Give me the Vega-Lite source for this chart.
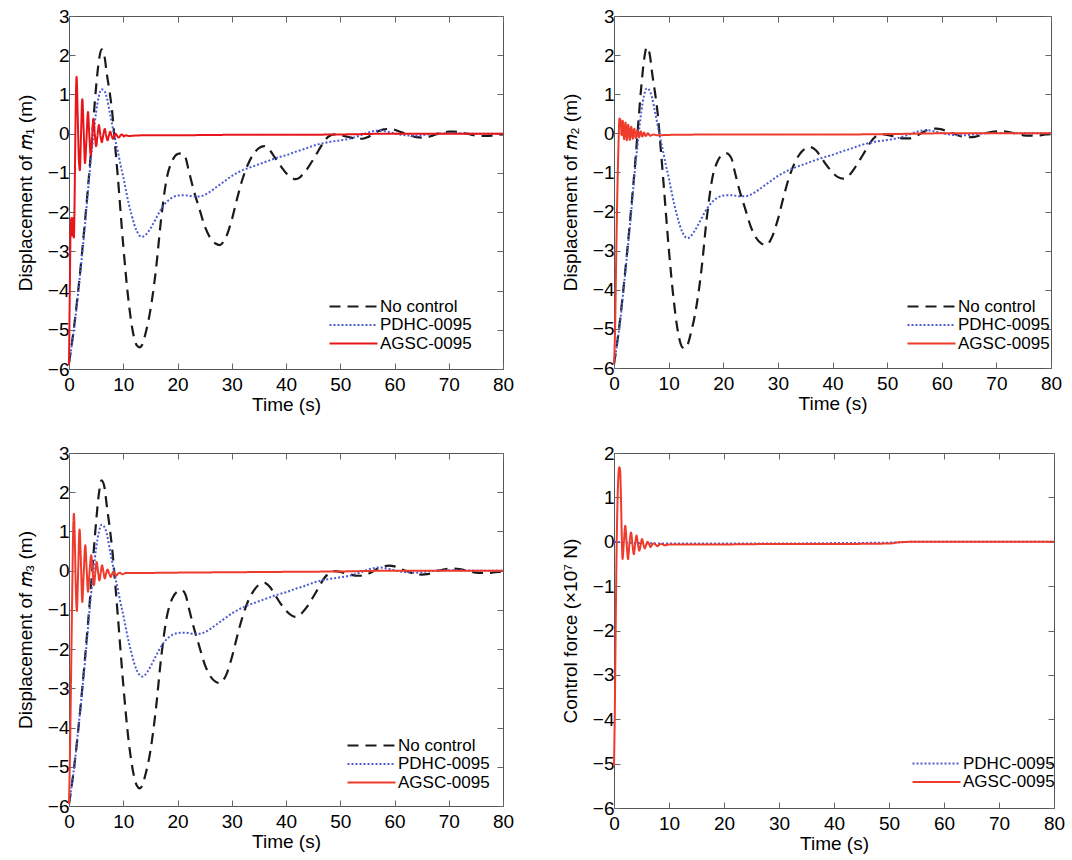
{
  "$schema": "https://vega.github.io/schema/vega-lite/v6.json",
  "background": "white",
  "padding": {"left": 15, "top": 6, "right": 5, "bottom": 3},
  "columns": 2,
  "spacing": {"row": 84, "column": 111},
  "bounds": "flush",
  "resolve": {"scale": {"color": "independent", "strokeDash": "independent"}, "legend": {"color": "independent", "strokeDash": "independent"}},
  "config": {
    "font": "Liberation Sans",
    "view": {"stroke": "#555", "strokeWidth": 1},
    "axis": {"domain": false, "grid": false, "labelFontSize": 19, "titleFontSize": 19, "titleFontWeight": "normal", "labelColor": "#000", "titleColor": "#000", "tickColor": "#666", "tickSize": -6, "labelPadding": 6, "titlePadding": 8, "labelFlush": false, "labelOverlap": false},
    "axisX": {"labelPadding": 12, "titlePadding": 1},
    "axisY": {"titlePadding": 12},
    "legend": {"labelFontSize": 17, "labelColor": "#000", "symbolStrokeWidth": 2, "symbolSize": 144, "symbolType": "M-1,0H7", "rowPadding": 0.5, "padding": 0, "labelOffset": 36, "labelLimit": 0}
  },
  "datasets": {
    "m1": [
      {"t":0,"v":-5.85,"s":"No control"},{"t":1,"v":-4.85,"s":"No control"},{"t":2,"v":-3.6,"s":"No control"},{"t":3,"v":-2.15,"s":"No control"},{"t":4,"v":-0.55,"s":"No control"},{"t":4.5,"v":0.35,"s":"No control"},{"t":5,"v":1.2,"s":"No control"},{"t":5.5,"v":1.85,"s":"No control"},{"t":6,"v":2.15,"s":"No control"},{"t":6.5,"v":2.0,"s":"No control"},{"t":7,"v":1.5,"s":"No control"},{"t":7.5,"v":1.05,"s":"No control"},{"t":8,"v":0.5,"s":"No control"},{"t":8.5,"v":-0.3,"s":"No control"},{"t":9,"v":-1.1,"s":"No control"},{"t":10,"v":-2.85,"s":"No control"},{"t":11,"v":-4.3,"s":"No control"},{"t":12,"v":-5.2,"s":"No control"},{"t":12.5,"v":-5.4,"s":"No control"},{"t":13,"v":-5.45,"s":"No control"},{"t":13.5,"v":-5.38,"s":"No control"},{"t":14,"v":-5.15,"s":"No control"},{"t":15,"v":-4.5,"s":"No control"},{"t":16,"v":-3.5,"s":"No control"},{"t":17,"v":-2.15,"s":"No control"},{"t":18,"v":-1.15,"s":"No control"},{"t":19,"v":-0.7,"s":"No control"},{"t":20,"v":-0.52,"s":"No control"},{"t":20.7,"v":-0.5,"s":"No control"},{"t":21.5,"v":-0.62,"s":"No control"},{"t":22,"v":-0.9,"s":"No control"},{"t":23,"v":-1.45,"s":"No control"},{"t":24,"v":-1.9,"s":"No control"},{"t":25,"v":-2.35,"s":"No control"},{"t":26,"v":-2.65,"s":"No control"},{"t":27,"v":-2.8,"s":"No control"},{"t":27.8,"v":-2.84,"s":"No control"},{"t":28.5,"v":-2.75,"s":"No control"},{"t":29,"v":-2.62,"s":"No control"},{"t":30,"v":-2.2,"s":"No control"},{"t":31,"v":-1.65,"s":"No control"},{"t":32,"v":-1.15,"s":"No control"},{"t":33,"v":-0.78,"s":"No control"},{"t":34,"v":-0.52,"s":"No control"},{"t":35,"v":-0.37,"s":"No control"},{"t":36,"v":-0.32,"s":"No control"},{"t":37,"v":-0.42,"s":"No control"},{"t":38,"v":-0.62,"s":"No control"},{"t":39,"v":-0.82,"s":"No control"},{"t":40,"v":-1.0,"s":"No control"},{"t":41,"v":-1.12,"s":"No control"},{"t":41.8,"v":-1.16,"s":"No control"},{"t":42.5,"v":-1.12,"s":"No control"},{"t":43,"v":-1.05,"s":"No control"},{"t":44,"v":-0.88,"s":"No control"},{"t":45,"v":-0.66,"s":"No control"},{"t":46,"v":-0.43,"s":"No control"},{"t":47,"v":-0.2,"s":"No control"},{"t":48,"v":-0.06,"s":"No control"},{"t":49,"v":-0.02,"s":"No control"},{"t":50,"v":-0.04,"s":"No control"},{"t":51,"v":-0.07,"s":"No control"},{"t":52,"v":-0.1,"s":"No control"},{"t":53,"v":-0.13,"s":"No control"},{"t":54,"v":-0.13,"s":"No control"},{"t":55,"v":-0.09,"s":"No control"},{"t":56,"v":-0.02,"s":"No control"},{"t":57,"v":0.06,"s":"No control"},{"t":58,"v":0.11,"s":"No control"},{"t":59,"v":0.12,"s":"No control"},{"t":60,"v":0.1,"s":"No control"},{"t":61,"v":0.05,"s":"No control"},{"t":62,"v":0.0,"s":"No control"},{"t":63,"v":-0.05,"s":"No control"},{"t":64,"v":-0.09,"s":"No control"},{"t":65,"v":-0.1,"s":"No control"},{"t":66,"v":-0.09,"s":"No control"},{"t":67,"v":-0.05,"s":"No control"},{"t":68,"v":0.0,"s":"No control"},{"t":69,"v":0.03,"s":"No control"},{"t":70,"v":0.05,"s":"No control"},{"t":71,"v":0.05,"s":"No control"},{"t":72,"v":0.04,"s":"No control"},{"t":73,"v":0.01,"s":"No control"},{"t":74,"v":-0.02,"s":"No control"},{"t":75,"v":-0.05,"s":"No control"},{"t":76,"v":-0.06,"s":"No control"},{"t":77,"v":-0.06,"s":"No control"},{"t":78,"v":-0.05,"s":"No control"},{"t":79,"v":-0.03,"s":"No control"},{"t":80,"v":-0.02,"s":"No control"},
      {"t":0,"v":-5.85,"s":"PDHC-0095"},{"t":1,"v":-4.9,"s":"PDHC-0095"},{"t":2,"v":-3.65,"s":"PDHC-0095"},{"t":3,"v":-2.25,"s":"PDHC-0095"},{"t":4,"v":-0.7,"s":"PDHC-0095"},{"t":4.5,"v":-0.05,"s":"PDHC-0095"},{"t":5,"v":0.55,"s":"PDHC-0095"},{"t":5.5,"v":0.95,"s":"PDHC-0095"},{"t":6,"v":1.13,"s":"PDHC-0095"},{"t":6.5,"v":1.1,"s":"PDHC-0095"},{"t":7,"v":0.9,"s":"PDHC-0095"},{"t":7.5,"v":0.55,"s":"PDHC-0095"},{"t":8,"v":0.2,"s":"PDHC-0095"},{"t":8.5,"v":-0.15,"s":"PDHC-0095"},{"t":9,"v":-0.45,"s":"PDHC-0095"},{"t":9.5,"v":-0.8,"s":"PDHC-0095"},{"t":10,"v":-1.1,"s":"PDHC-0095"},{"t":10.5,"v":-1.45,"s":"PDHC-0095"},{"t":11,"v":-1.78,"s":"PDHC-0095"},{"t":11.5,"v":-2.05,"s":"PDHC-0095"},{"t":12,"v":-2.3,"s":"PDHC-0095"},{"t":12.5,"v":-2.48,"s":"PDHC-0095"},{"t":13,"v":-2.6,"s":"PDHC-0095"},{"t":13.5,"v":-2.63,"s":"PDHC-0095"},{"t":14,"v":-2.6,"s":"PDHC-0095"},{"t":14.5,"v":-2.52,"s":"PDHC-0095"},{"t":15,"v":-2.42,"s":"PDHC-0095"},{"t":15.5,"v":-2.3,"s":"PDHC-0095"},{"t":16,"v":-2.17,"s":"PDHC-0095"},{"t":16.5,"v":-2.04,"s":"PDHC-0095"},{"t":17,"v":-1.92,"s":"PDHC-0095"},{"t":17.5,"v":-1.82,"s":"PDHC-0095"},{"t":18,"v":-1.74,"s":"PDHC-0095"},{"t":18.5,"v":-1.68,"s":"PDHC-0095"},{"t":19,"v":-1.63,"s":"PDHC-0095"},{"t":20,"v":-1.58,"s":"PDHC-0095"},{"t":21,"v":-1.57,"s":"PDHC-0095"},{"t":22,"v":-1.58,"s":"PDHC-0095"},{"t":23,"v":-1.6,"s":"PDHC-0095"},{"t":24,"v":-1.6,"s":"PDHC-0095"},{"t":25,"v":-1.56,"s":"PDHC-0095"},{"t":26,"v":-1.48,"s":"PDHC-0095"},{"t":27,"v":-1.38,"s":"PDHC-0095"},{"t":28,"v":-1.28,"s":"PDHC-0095"},{"t":29,"v":-1.18,"s":"PDHC-0095"},{"t":30,"v":-1.08,"s":"PDHC-0095"},{"t":31,"v":-1.0,"s":"PDHC-0095"},{"t":32,"v":-0.93,"s":"PDHC-0095"},{"t":33,"v":-0.88,"s":"PDHC-0095"},{"t":34,"v":-0.83,"s":"PDHC-0095"},{"t":35,"v":-0.78,"s":"PDHC-0095"},{"t":36,"v":-0.73,"s":"PDHC-0095"},{"t":37,"v":-0.68,"s":"PDHC-0095"},{"t":38,"v":-0.63,"s":"PDHC-0095"},{"t":39,"v":-0.59,"s":"PDHC-0095"},{"t":40,"v":-0.55,"s":"PDHC-0095"},{"t":41,"v":-0.5,"s":"PDHC-0095"},{"t":42,"v":-0.45,"s":"PDHC-0095"},{"t":43,"v":-0.41,"s":"PDHC-0095"},{"t":44,"v":-0.36,"s":"PDHC-0095"},{"t":45,"v":-0.31,"s":"PDHC-0095"},{"t":46,"v":-0.27,"s":"PDHC-0095"},{"t":47,"v":-0.24,"s":"PDHC-0095"},{"t":48,"v":-0.21,"s":"PDHC-0095"},{"t":49,"v":-0.19,"s":"PDHC-0095"},{"t":50,"v":-0.17,"s":"PDHC-0095"},{"t":51,"v":-0.15,"s":"PDHC-0095"},{"t":52,"v":-0.12,"s":"PDHC-0095"},{"t":53,"v":-0.08,"s":"PDHC-0095"},{"t":54,"v":-0.03,"s":"PDHC-0095"},{"t":55,"v":0.02,"s":"PDHC-0095"},{"t":56,"v":0.06,"s":"PDHC-0095"},{"t":57,"v":0.08,"s":"PDHC-0095"},{"t":58,"v":0.07,"s":"PDHC-0095"},{"t":59,"v":0.04,"s":"PDHC-0095"},{"t":60,"v":0.01,"s":"PDHC-0095"},{"t":61,"v":-0.02,"s":"PDHC-0095"},{"t":62,"v":-0.04,"s":"PDHC-0095"},{"t":63,"v":-0.05,"s":"PDHC-0095"},{"t":64,"v":-0.05,"s":"PDHC-0095"},{"t":65,"v":-0.04,"s":"PDHC-0095"},{"t":66,"v":-0.02,"s":"PDHC-0095"},{"t":68,"v":0.0,"s":"PDHC-0095"},{"t":70,"v":0.01,"s":"PDHC-0095"},{"t":72,"v":0.01,"s":"PDHC-0095"},{"t":75,"v":0.0,"s":"PDHC-0095"},{"t":80,"v":0.0,"s":"PDHC-0095"},
      {"t":0,"v":-5.9,"s":"AGSC-0095"},{"t":0.15,"v":-4.0,"s":"AGSC-0095"},{"t":0.3,"v":-2.4,"s":"AGSC-0095"},{"t":0.45,"v":-2.15,"s":"AGSC-0095"},{"t":0.6,"v":-2.6,"s":"AGSC-0095"},{"t":0.75,"v":-2.15,"s":"AGSC-0095"},{"t":0.9,"v":-2.65,"s":"AGSC-0095"},{"t":1.05,"v":-1.5,"s":"AGSC-0095"},{"t":1.2,"v":0.3,"s":"AGSC-0095"},{"t":1.4,"v":1.45,"s":"AGSC-0095"},{"t":1.6,"v":0.5,"s":"AGSC-0095"},{"t":1.8,"v":-0.6,"s":"AGSC-0095"},{"t":2.0,"v":-0.93,"s":"AGSC-0095"},{"t":2.2,"v":-0.1,"s":"AGSC-0095"},{"t":2.45,"v":0.88,"s":"AGSC-0095"},{"t":2.7,"v":0.1,"s":"AGSC-0095"},{"t":2.95,"v":-0.75,"s":"AGSC-0095"},{"t":3.2,"v":-0.2,"s":"AGSC-0095"},{"t":3.5,"v":0.55,"s":"AGSC-0095"},{"t":3.75,"v":-0.05,"s":"AGSC-0095"},{"t":4.0,"v":-0.55,"s":"AGSC-0095"},{"t":4.25,"v":-0.1,"s":"AGSC-0095"},{"t":4.5,"v":0.38,"s":"AGSC-0095"},{"t":4.75,"v":0.0,"s":"AGSC-0095"},{"t":5.0,"v":-0.32,"s":"AGSC-0095"},{"t":5.25,"v":-0.05,"s":"AGSC-0095"},{"t":5.5,"v":0.22,"s":"AGSC-0095"},{"t":5.8,"v":-0.05,"s":"AGSC-0095"},{"t":6.05,"v":-0.22,"s":"AGSC-0095"},{"t":6.3,"v":-0.05,"s":"AGSC-0095"},{"t":6.6,"v":0.12,"s":"AGSC-0095"},{"t":6.85,"v":-0.05,"s":"AGSC-0095"},{"t":7.1,"v":-0.17,"s":"AGSC-0095"},{"t":7.35,"v":-0.05,"s":"AGSC-0095"},{"t":7.6,"v":0.05,"s":"AGSC-0095"},{"t":7.85,"v":-0.05,"s":"AGSC-0095"},{"t":8.1,"v":-0.13,"s":"AGSC-0095"},{"t":8.35,"v":-0.05,"s":"AGSC-0095"},{"t":8.6,"v":0.0,"s":"AGSC-0095"},{"t":8.9,"v":-0.06,"s":"AGSC-0095"},{"t":9.2,"v":-0.1,"s":"AGSC-0095"},{"t":9.5,"v":-0.04,"s":"AGSC-0095"},{"t":9.8,"v":-0.02,"s":"AGSC-0095"},{"t":10.1,"v":-0.07,"s":"AGSC-0095"},{"t":10.5,"v":-0.04,"s":"AGSC-0095"},{"t":11,"v":-0.06,"s":"AGSC-0095"},{"t":12,"v":-0.05,"s":"AGSC-0095"},{"t":15,"v":-0.04,"s":"AGSC-0095"},{"t":20,"v":-0.04,"s":"AGSC-0095"},{"t":30,"v":-0.03,"s":"AGSC-0095"},{"t":40,"v":-0.03,"s":"AGSC-0095"},{"t":50,"v":-0.02,"s":"AGSC-0095"},{"t":60,"v":0.0,"s":"AGSC-0095"},{"t":70,"v":0.0,"s":"AGSC-0095"},{"t":80,"v":0.0,"s":"AGSC-0095"}
    ],
    "m2": [
      {"t":0,"v":-5.9,"s":"No control"},{"t":1,"v":-4.9,"s":"No control"},{"t":2,"v":-3.6,"s":"No control"},{"t":3,"v":-2.15,"s":"No control"},{"t":4,"v":-0.55,"s":"No control"},{"t":4.5,"v":0.35,"s":"No control"},{"t":5,"v":1.2,"s":"No control"},{"t":5.5,"v":1.88,"s":"No control"},{"t":6,"v":2.2,"s":"No control"},{"t":6.5,"v":2.05,"s":"No control"},{"t":7,"v":1.52,"s":"No control"},{"t":7.5,"v":1.05,"s":"No control"},{"t":8,"v":0.5,"s":"No control"},{"t":8.5,"v":-0.3,"s":"No control"},{"t":9,"v":-1.15,"s":"No control"},{"t":10,"v":-2.9,"s":"No control"},{"t":11,"v":-4.35,"s":"No control"},{"t":12,"v":-5.28,"s":"No control"},{"t":12.5,"v":-5.47,"s":"No control"},{"t":13,"v":-5.5,"s":"No control"},{"t":13.5,"v":-5.4,"s":"No control"},{"t":14,"v":-5.15,"s":"No control"},{"t":15,"v":-4.5,"s":"No control"},{"t":16,"v":-3.5,"s":"No control"},{"t":17,"v":-2.15,"s":"No control"},{"t":18,"v":-1.15,"s":"No control"},{"t":19,"v":-0.7,"s":"No control"},{"t":20,"v":-0.53,"s":"No control"},{"t":20.6,"v":-0.51,"s":"No control"},{"t":21.5,"v":-0.64,"s":"No control"},{"t":22,"v":-0.92,"s":"No control"},{"t":23,"v":-1.47,"s":"No control"},{"t":24,"v":-1.92,"s":"No control"},{"t":25,"v":-2.37,"s":"No control"},{"t":26,"v":-2.67,"s":"No control"},{"t":27,"v":-2.82,"s":"No control"},{"t":27.9,"v":-2.86,"s":"No control"},{"t":28.5,"v":-2.77,"s":"No control"},{"t":29,"v":-2.63,"s":"No control"},{"t":30,"v":-2.2,"s":"No control"},{"t":31,"v":-1.65,"s":"No control"},{"t":32,"v":-1.15,"s":"No control"},{"t":33,"v":-0.78,"s":"No control"},{"t":34,"v":-0.53,"s":"No control"},{"t":35,"v":-0.39,"s":"No control"},{"t":35.8,"v":-0.35,"s":"No control"},{"t":37,"v":-0.44,"s":"No control"},{"t":38,"v":-0.63,"s":"No control"},{"t":39,"v":-0.83,"s":"No control"},{"t":40,"v":-1.0,"s":"No control"},{"t":41,"v":-1.12,"s":"No control"},{"t":42,"v":-1.16,"s":"No control"},{"t":42.7,"v":-1.12,"s":"No control"},{"t":43.5,"v":-1.0,"s":"No control"},{"t":44,"v":-0.9,"s":"No control"},{"t":45,"v":-0.68,"s":"No control"},{"t":46,"v":-0.45,"s":"No control"},{"t":47,"v":-0.22,"s":"No control"},{"t":48,"v":-0.07,"s":"No control"},{"t":49,"v":-0.02,"s":"No control"},{"t":50,"v":-0.04,"s":"No control"},{"t":51,"v":-0.07,"s":"No control"},{"t":52,"v":-0.1,"s":"No control"},{"t":53,"v":-0.13,"s":"No control"},{"t":54,"v":-0.13,"s":"No control"},{"t":55,"v":-0.09,"s":"No control"},{"t":56,"v":-0.02,"s":"No control"},{"t":57,"v":0.06,"s":"No control"},{"t":58,"v":0.11,"s":"No control"},{"t":59,"v":0.12,"s":"No control"},{"t":60,"v":0.1,"s":"No control"},{"t":61,"v":0.05,"s":"No control"},{"t":62,"v":0.0,"s":"No control"},{"t":63,"v":-0.05,"s":"No control"},{"t":64,"v":-0.09,"s":"No control"},{"t":65,"v":-0.1,"s":"No control"},{"t":66,"v":-0.09,"s":"No control"},{"t":67,"v":-0.05,"s":"No control"},{"t":68,"v":0.0,"s":"No control"},{"t":69,"v":0.03,"s":"No control"},{"t":70,"v":0.05,"s":"No control"},{"t":71,"v":0.05,"s":"No control"},{"t":72,"v":0.04,"s":"No control"},{"t":73,"v":0.01,"s":"No control"},{"t":74,"v":-0.02,"s":"No control"},{"t":75,"v":-0.05,"s":"No control"},{"t":76,"v":-0.06,"s":"No control"},{"t":77,"v":-0.06,"s":"No control"},{"t":78,"v":-0.05,"s":"No control"},{"t":79,"v":-0.03,"s":"No control"},{"t":80,"v":-0.02,"s":"No control"},
      {"t":0,"v":-5.9,"s":"PDHC-0095"},{"t":1,"v":-4.95,"s":"PDHC-0095"},{"t":2,"v":-3.65,"s":"PDHC-0095"},{"t":3,"v":-2.25,"s":"PDHC-0095"},{"t":4,"v":-0.7,"s":"PDHC-0095"},{"t":4.5,"v":-0.05,"s":"PDHC-0095"},{"t":5,"v":0.55,"s":"PDHC-0095"},{"t":5.5,"v":0.97,"s":"PDHC-0095"},{"t":6,"v":1.15,"s":"PDHC-0095"},{"t":6.5,"v":1.1,"s":"PDHC-0095"},{"t":7,"v":0.9,"s":"PDHC-0095"},{"t":7.5,"v":0.55,"s":"PDHC-0095"},{"t":8,"v":0.2,"s":"PDHC-0095"},{"t":8.5,"v":-0.15,"s":"PDHC-0095"},{"t":9,"v":-0.47,"s":"PDHC-0095"},{"t":9.5,"v":-0.82,"s":"PDHC-0095"},{"t":10,"v":-1.12,"s":"PDHC-0095"},{"t":10.5,"v":-1.47,"s":"PDHC-0095"},{"t":11,"v":-1.8,"s":"PDHC-0095"},{"t":11.5,"v":-2.08,"s":"PDHC-0095"},{"t":12,"v":-2.33,"s":"PDHC-0095"},{"t":12.5,"v":-2.52,"s":"PDHC-0095"},{"t":13,"v":-2.64,"s":"PDHC-0095"},{"t":13.5,"v":-2.68,"s":"PDHC-0095"},{"t":14,"v":-2.64,"s":"PDHC-0095"},{"t":14.5,"v":-2.55,"s":"PDHC-0095"},{"t":15,"v":-2.44,"s":"PDHC-0095"},{"t":15.5,"v":-2.31,"s":"PDHC-0095"},{"t":16,"v":-2.18,"s":"PDHC-0095"},{"t":16.5,"v":-2.05,"s":"PDHC-0095"},{"t":17,"v":-1.93,"s":"PDHC-0095"},{"t":17.5,"v":-1.83,"s":"PDHC-0095"},{"t":18,"v":-1.75,"s":"PDHC-0095"},{"t":18.5,"v":-1.69,"s":"PDHC-0095"},{"t":19,"v":-1.64,"s":"PDHC-0095"},{"t":20,"v":-1.59,"s":"PDHC-0095"},{"t":21,"v":-1.58,"s":"PDHC-0095"},{"t":22,"v":-1.59,"s":"PDHC-0095"},{"t":23,"v":-1.61,"s":"PDHC-0095"},{"t":24,"v":-1.61,"s":"PDHC-0095"},{"t":25,"v":-1.57,"s":"PDHC-0095"},{"t":26,"v":-1.49,"s":"PDHC-0095"},{"t":27,"v":-1.39,"s":"PDHC-0095"},{"t":28,"v":-1.29,"s":"PDHC-0095"},{"t":29,"v":-1.19,"s":"PDHC-0095"},{"t":30,"v":-1.09,"s":"PDHC-0095"},{"t":31,"v":-1.01,"s":"PDHC-0095"},{"t":32,"v":-0.94,"s":"PDHC-0095"},{"t":33,"v":-0.88,"s":"PDHC-0095"},{"t":34,"v":-0.83,"s":"PDHC-0095"},{"t":35,"v":-0.78,"s":"PDHC-0095"},{"t":36,"v":-0.73,"s":"PDHC-0095"},{"t":37,"v":-0.68,"s":"PDHC-0095"},{"t":38,"v":-0.63,"s":"PDHC-0095"},{"t":39,"v":-0.59,"s":"PDHC-0095"},{"t":40,"v":-0.55,"s":"PDHC-0095"},{"t":41,"v":-0.5,"s":"PDHC-0095"},{"t":42,"v":-0.45,"s":"PDHC-0095"},{"t":43,"v":-0.41,"s":"PDHC-0095"},{"t":44,"v":-0.36,"s":"PDHC-0095"},{"t":45,"v":-0.31,"s":"PDHC-0095"},{"t":46,"v":-0.27,"s":"PDHC-0095"},{"t":47,"v":-0.24,"s":"PDHC-0095"},{"t":48,"v":-0.21,"s":"PDHC-0095"},{"t":49,"v":-0.19,"s":"PDHC-0095"},{"t":50,"v":-0.17,"s":"PDHC-0095"},{"t":51,"v":-0.15,"s":"PDHC-0095"},{"t":52,"v":-0.12,"s":"PDHC-0095"},{"t":53,"v":-0.08,"s":"PDHC-0095"},{"t":54,"v":-0.03,"s":"PDHC-0095"},{"t":55,"v":0.02,"s":"PDHC-0095"},{"t":56,"v":0.06,"s":"PDHC-0095"},{"t":57,"v":0.08,"s":"PDHC-0095"},{"t":58,"v":0.07,"s":"PDHC-0095"},{"t":59,"v":0.04,"s":"PDHC-0095"},{"t":60,"v":0.01,"s":"PDHC-0095"},{"t":61,"v":-0.02,"s":"PDHC-0095"},{"t":62,"v":-0.04,"s":"PDHC-0095"},{"t":63,"v":-0.05,"s":"PDHC-0095"},{"t":64,"v":-0.05,"s":"PDHC-0095"},{"t":65,"v":-0.04,"s":"PDHC-0095"},{"t":66,"v":-0.02,"s":"PDHC-0095"},{"t":68,"v":0.0,"s":"PDHC-0095"},{"t":70,"v":0.01,"s":"PDHC-0095"},{"t":72,"v":0.01,"s":"PDHC-0095"},{"t":75,"v":0.0,"s":"PDHC-0095"},{"t":80,"v":0.0,"s":"PDHC-0095"},
      {"t":0,"v":-5.9,"s":"AGSC-0095"},{"t":0.2,"v":-5.0,"s":"AGSC-0095"},{"t":0.4,"v":-3.2,"s":"AGSC-0095"},{"t":0.6,"v":-1.6,"s":"AGSC-0095"},{"t":0.8,"v":-0.4,"s":"AGSC-0095"},{"t":1.0,"v":0.38,"s":"AGSC-0095"},{"t":1.2,"v":0.33,"s":"AGSC-0095"},{"t":1.4,"v":-0.05,"s":"AGSC-0095"},{"t":1.6,"v":0.32,"s":"AGSC-0095"},{"t":1.85,"v":-0.15,"s":"AGSC-0095"},{"t":2.1,"v":0.28,"s":"AGSC-0095"},{"t":2.35,"v":-0.18,"s":"AGSC-0095"},{"t":2.6,"v":0.22,"s":"AGSC-0095"},{"t":2.9,"v":-0.17,"s":"AGSC-0095"},{"t":3.15,"v":0.17,"s":"AGSC-0095"},{"t":3.45,"v":-0.14,"s":"AGSC-0095"},{"t":3.7,"v":0.12,"s":"AGSC-0095"},{"t":4.0,"v":-0.12,"s":"AGSC-0095"},{"t":4.3,"v":0.08,"s":"AGSC-0095"},{"t":4.6,"v":-0.1,"s":"AGSC-0095"},{"t":4.9,"v":0.05,"s":"AGSC-0095"},{"t":5.2,"v":-0.08,"s":"AGSC-0095"},{"t":5.5,"v":0.02,"s":"AGSC-0095"},{"t":5.8,"v":-0.07,"s":"AGSC-0095"},{"t":6.2,"v":0.0,"s":"AGSC-0095"},{"t":6.6,"v":-0.06,"s":"AGSC-0095"},{"t":7.2,"v":-0.03,"s":"AGSC-0095"},{"t":8,"v":-0.05,"s":"AGSC-0095"},{"t":10,"v":-0.04,"s":"AGSC-0095"},{"t":20,"v":-0.03,"s":"AGSC-0095"},{"t":40,"v":-0.03,"s":"AGSC-0095"},{"t":50,"v":-0.02,"s":"AGSC-0095"},{"t":60,"v":0.0,"s":"AGSC-0095"},{"t":80,"v":0.0,"s":"AGSC-0095"}
    ],
    "m3": [
      {"t":0,"v":-5.95,"s":"No control"},{"t":1,"v":-4.95,"s":"No control"},{"t":2,"v":-3.65,"s":"No control"},{"t":3,"v":-2.15,"s":"No control"},{"t":4,"v":-0.5,"s":"No control"},{"t":4.5,"v":0.4,"s":"No control"},{"t":5,"v":1.25,"s":"No control"},{"t":5.5,"v":1.95,"s":"No control"},{"t":6,"v":2.3,"s":"No control"},{"t":6.5,"v":2.15,"s":"No control"},{"t":7,"v":1.62,"s":"No control"},{"t":7.5,"v":1.1,"s":"No control"},{"t":8,"v":0.5,"s":"No control"},{"t":8.5,"v":-0.3,"s":"No control"},{"t":9,"v":-1.15,"s":"No control"},{"t":10,"v":-2.9,"s":"No control"},{"t":11,"v":-4.35,"s":"No control"},{"t":12,"v":-5.25,"s":"No control"},{"t":12.5,"v":-5.48,"s":"No control"},{"t":13,"v":-5.55,"s":"No control"},{"t":13.5,"v":-5.48,"s":"No control"},{"t":14,"v":-5.25,"s":"No control"},{"t":15,"v":-4.6,"s":"No control"},{"t":16,"v":-3.55,"s":"No control"},{"t":17,"v":-2.2,"s":"No control"},{"t":18,"v":-1.2,"s":"No control"},{"t":19,"v":-0.72,"s":"No control"},{"t":20,"v":-0.53,"s":"No control"},{"t":20.8,"v":-0.5,"s":"No control"},{"t":21.5,"v":-0.62,"s":"No control"},{"t":22,"v":-0.9,"s":"No control"},{"t":23,"v":-1.45,"s":"No control"},{"t":24,"v":-1.92,"s":"No control"},{"t":25,"v":-2.38,"s":"No control"},{"t":26,"v":-2.68,"s":"No control"},{"t":27,"v":-2.83,"s":"No control"},{"t":27.9,"v":-2.87,"s":"No control"},{"t":28.5,"v":-2.78,"s":"No control"},{"t":29,"v":-2.65,"s":"No control"},{"t":30,"v":-2.22,"s":"No control"},{"t":31,"v":-1.67,"s":"No control"},{"t":32,"v":-1.17,"s":"No control"},{"t":33,"v":-0.78,"s":"No control"},{"t":34,"v":-0.52,"s":"No control"},{"t":35,"v":-0.36,"s":"No control"},{"t":36,"v":-0.31,"s":"No control"},{"t":37,"v":-0.41,"s":"No control"},{"t":38,"v":-0.62,"s":"No control"},{"t":39,"v":-0.84,"s":"No control"},{"t":40,"v":-1.02,"s":"No control"},{"t":41,"v":-1.14,"s":"No control"},{"t":41.8,"v":-1.18,"s":"No control"},{"t":42.5,"v":-1.14,"s":"No control"},{"t":43,"v":-1.07,"s":"No control"},{"t":44,"v":-0.9,"s":"No control"},{"t":45,"v":-0.67,"s":"No control"},{"t":46,"v":-0.44,"s":"No control"},{"t":47,"v":-0.2,"s":"No control"},{"t":48,"v":-0.06,"s":"No control"},{"t":49,"v":-0.01,"s":"No control"},{"t":50,"v":-0.03,"s":"No control"},{"t":51,"v":-0.07,"s":"No control"},{"t":52,"v":-0.1,"s":"No control"},{"t":53,"v":-0.13,"s":"No control"},{"t":54,"v":-0.13,"s":"No control"},{"t":55,"v":-0.09,"s":"No control"},{"t":56,"v":-0.02,"s":"No control"},{"t":57,"v":0.06,"s":"No control"},{"t":58,"v":0.11,"s":"No control"},{"t":59,"v":0.13,"s":"No control"},{"t":60,"v":0.11,"s":"No control"},{"t":61,"v":0.05,"s":"No control"},{"t":62,"v":0.0,"s":"No control"},{"t":63,"v":-0.05,"s":"No control"},{"t":64,"v":-0.09,"s":"No control"},{"t":65,"v":-0.1,"s":"No control"},{"t":66,"v":-0.09,"s":"No control"},{"t":67,"v":-0.05,"s":"No control"},{"t":68,"v":0.0,"s":"No control"},{"t":69,"v":0.03,"s":"No control"},{"t":70,"v":0.05,"s":"No control"},{"t":71,"v":0.05,"s":"No control"},{"t":72,"v":0.04,"s":"No control"},{"t":73,"v":0.01,"s":"No control"},{"t":74,"v":-0.02,"s":"No control"},{"t":75,"v":-0.05,"s":"No control"},{"t":76,"v":-0.06,"s":"No control"},{"t":77,"v":-0.06,"s":"No control"},{"t":78,"v":-0.05,"s":"No control"},{"t":79,"v":-0.03,"s":"No control"},{"t":80,"v":-0.02,"s":"No control"},
      {"t":0,"v":-5.95,"s":"PDHC-0095"},{"t":1,"v":-4.95,"s":"PDHC-0095"},{"t":2,"v":-3.65,"s":"PDHC-0095"},{"t":3,"v":-2.25,"s":"PDHC-0095"},{"t":4,"v":-0.7,"s":"PDHC-0095"},{"t":4.5,"v":-0.03,"s":"PDHC-0095"},{"t":5,"v":0.57,"s":"PDHC-0095"},{"t":5.5,"v":0.98,"s":"PDHC-0095"},{"t":6,"v":1.17,"s":"PDHC-0095"},{"t":6.5,"v":1.12,"s":"PDHC-0095"},{"t":7,"v":0.92,"s":"PDHC-0095"},{"t":7.5,"v":0.56,"s":"PDHC-0095"},{"t":8,"v":0.2,"s":"PDHC-0095"},{"t":8.5,"v":-0.15,"s":"PDHC-0095"},{"t":9,"v":-0.47,"s":"PDHC-0095"},{"t":9.5,"v":-0.82,"s":"PDHC-0095"},{"t":10,"v":-1.13,"s":"PDHC-0095"},{"t":10.5,"v":-1.48,"s":"PDHC-0095"},{"t":11,"v":-1.81,"s":"PDHC-0095"},{"t":11.5,"v":-2.09,"s":"PDHC-0095"},{"t":12,"v":-2.35,"s":"PDHC-0095"},{"t":12.5,"v":-2.54,"s":"PDHC-0095"},{"t":13,"v":-2.66,"s":"PDHC-0095"},{"t":13.5,"v":-2.7,"s":"PDHC-0095"},{"t":14,"v":-2.66,"s":"PDHC-0095"},{"t":14.5,"v":-2.57,"s":"PDHC-0095"},{"t":15,"v":-2.45,"s":"PDHC-0095"},{"t":15.5,"v":-2.32,"s":"PDHC-0095"},{"t":16,"v":-2.18,"s":"PDHC-0095"},{"t":16.5,"v":-2.05,"s":"PDHC-0095"},{"t":17,"v":-1.93,"s":"PDHC-0095"},{"t":17.5,"v":-1.83,"s":"PDHC-0095"},{"t":18,"v":-1.75,"s":"PDHC-0095"},{"t":18.5,"v":-1.69,"s":"PDHC-0095"},{"t":19,"v":-1.64,"s":"PDHC-0095"},{"t":20,"v":-1.59,"s":"PDHC-0095"},{"t":21,"v":-1.58,"s":"PDHC-0095"},{"t":22,"v":-1.59,"s":"PDHC-0095"},{"t":23,"v":-1.61,"s":"PDHC-0095"},{"t":24,"v":-1.61,"s":"PDHC-0095"},{"t":25,"v":-1.57,"s":"PDHC-0095"},{"t":26,"v":-1.49,"s":"PDHC-0095"},{"t":27,"v":-1.39,"s":"PDHC-0095"},{"t":28,"v":-1.29,"s":"PDHC-0095"},{"t":29,"v":-1.19,"s":"PDHC-0095"},{"t":30,"v":-1.09,"s":"PDHC-0095"},{"t":31,"v":-1.01,"s":"PDHC-0095"},{"t":32,"v":-0.94,"s":"PDHC-0095"},{"t":33,"v":-0.88,"s":"PDHC-0095"},{"t":34,"v":-0.83,"s":"PDHC-0095"},{"t":35,"v":-0.78,"s":"PDHC-0095"},{"t":36,"v":-0.73,"s":"PDHC-0095"},{"t":37,"v":-0.68,"s":"PDHC-0095"},{"t":38,"v":-0.63,"s":"PDHC-0095"},{"t":39,"v":-0.59,"s":"PDHC-0095"},{"t":40,"v":-0.55,"s":"PDHC-0095"},{"t":41,"v":-0.5,"s":"PDHC-0095"},{"t":42,"v":-0.45,"s":"PDHC-0095"},{"t":43,"v":-0.41,"s":"PDHC-0095"},{"t":44,"v":-0.36,"s":"PDHC-0095"},{"t":45,"v":-0.31,"s":"PDHC-0095"},{"t":46,"v":-0.27,"s":"PDHC-0095"},{"t":47,"v":-0.24,"s":"PDHC-0095"},{"t":48,"v":-0.21,"s":"PDHC-0095"},{"t":49,"v":-0.19,"s":"PDHC-0095"},{"t":50,"v":-0.17,"s":"PDHC-0095"},{"t":51,"v":-0.15,"s":"PDHC-0095"},{"t":52,"v":-0.12,"s":"PDHC-0095"},{"t":53,"v":-0.08,"s":"PDHC-0095"},{"t":54,"v":-0.03,"s":"PDHC-0095"},{"t":55,"v":0.02,"s":"PDHC-0095"},{"t":56,"v":0.06,"s":"PDHC-0095"},{"t":57,"v":0.08,"s":"PDHC-0095"},{"t":58,"v":0.07,"s":"PDHC-0095"},{"t":59,"v":0.04,"s":"PDHC-0095"},{"t":60,"v":0.01,"s":"PDHC-0095"},{"t":61,"v":-0.02,"s":"PDHC-0095"},{"t":62,"v":-0.04,"s":"PDHC-0095"},{"t":63,"v":-0.05,"s":"PDHC-0095"},{"t":64,"v":-0.05,"s":"PDHC-0095"},{"t":65,"v":-0.04,"s":"PDHC-0095"},{"t":66,"v":-0.02,"s":"PDHC-0095"},{"t":68,"v":0.0,"s":"PDHC-0095"},{"t":70,"v":0.01,"s":"PDHC-0095"},{"t":72,"v":0.01,"s":"PDHC-0095"},{"t":75,"v":0.0,"s":"PDHC-0095"},{"t":80,"v":0.0,"s":"PDHC-0095"},
      {"t":0,"v":-5.95,"s":"AGSC-0095"},{"t":0.2,"v":-4.5,"s":"AGSC-0095"},{"t":0.4,"v":-2.5,"s":"AGSC-0095"},{"t":0.6,"v":-0.5,"s":"AGSC-0095"},{"t":0.75,"v":0.9,"s":"AGSC-0095"},{"t":0.9,"v":1.45,"s":"AGSC-0095"},{"t":1.05,"v":0.9,"s":"AGSC-0095"},{"t":1.25,"v":-0.4,"s":"AGSC-0095"},{"t":1.45,"v":-1.03,"s":"AGSC-0095"},{"t":1.65,"v":-0.2,"s":"AGSC-0095"},{"t":1.95,"v":1.05,"s":"AGSC-0095"},{"t":2.2,"v":0.2,"s":"AGSC-0095"},{"t":2.45,"v":-0.8,"s":"AGSC-0095"},{"t":2.7,"v":-0.1,"s":"AGSC-0095"},{"t":3.0,"v":0.65,"s":"AGSC-0095"},{"t":3.25,"v":0.05,"s":"AGSC-0095"},{"t":3.5,"v":-0.54,"s":"AGSC-0095"},{"t":3.8,"v":0.0,"s":"AGSC-0095"},{"t":4.1,"v":0.39,"s":"AGSC-0095"},{"t":4.35,"v":0.0,"s":"AGSC-0095"},{"t":4.6,"v":-0.37,"s":"AGSC-0095"},{"t":4.85,"v":-0.05,"s":"AGSC-0095"},{"t":5.1,"v":0.22,"s":"AGSC-0095"},{"t":5.35,"v":-0.02,"s":"AGSC-0095"},{"t":5.6,"v":-0.25,"s":"AGSC-0095"},{"t":5.85,"v":-0.05,"s":"AGSC-0095"},{"t":6.1,"v":0.14,"s":"AGSC-0095"},{"t":6.35,"v":-0.03,"s":"AGSC-0095"},{"t":6.6,"v":-0.2,"s":"AGSC-0095"},{"t":6.85,"v":-0.07,"s":"AGSC-0095"},{"t":7.1,"v":0.03,"s":"AGSC-0095"},{"t":7.4,"v":-0.07,"s":"AGSC-0095"},{"t":7.7,"v":-0.16,"s":"AGSC-0095"},{"t":7.95,"v":-0.08,"s":"AGSC-0095"},{"t":8.2,"v":-0.03,"s":"AGSC-0095"},{"t":8.45,"v":-0.08,"s":"AGSC-0095"},{"t":8.7,"v":-0.13,"s":"AGSC-0095"},{"t":9.0,"v":-0.08,"s":"AGSC-0095"},{"t":9.4,"v":-0.05,"s":"AGSC-0095"},{"t":9.8,"v":-0.09,"s":"AGSC-0095"},{"t":10.5,"v":-0.06,"s":"AGSC-0095"},{"t":12,"v":-0.06,"s":"AGSC-0095"},{"t":20,"v":-0.05,"s":"AGSC-0095"},{"t":30,"v":-0.04,"s":"AGSC-0095"},{"t":40,"v":-0.03,"s":"AGSC-0095"},{"t":50,"v":-0.02,"s":"AGSC-0095"},{"t":60,"v":0.0,"s":"AGSC-0095"},{"t":80,"v":0.0,"s":"AGSC-0095"}
    ],
    "f": [
      {"t":0,"v":0.0,"s":"PDHC-0095"},{"t":2,"v":-0.02,"s":"PDHC-0095"},{"t":5,"v":-0.03,"s":"PDHC-0095"},{"t":10,"v":-0.04,"s":"PDHC-0095"},{"t":20,"v":-0.04,"s":"PDHC-0095"},{"t":30,"v":-0.04,"s":"PDHC-0095"},{"t":40,"v":-0.03,"s":"PDHC-0095"},{"t":50,"v":-0.02,"s":"PDHC-0095"},{"t":55,"v":0.0,"s":"PDHC-0095"},{"t":80,"v":0.0,"s":"PDHC-0095"},
      {"t":0,"v":-5.05,"s":"AGSC-0095"},{"t":0.15,"v":-3.8,"s":"AGSC-0095"},{"t":0.3,"v":-2.0,"s":"AGSC-0095"},{"t":0.45,"v":-0.4,"s":"AGSC-0095"},{"t":0.6,"v":0.7,"s":"AGSC-0095"},{"t":0.75,"v":1.35,"s":"AGSC-0095"},{"t":0.95,"v":1.68,"s":"AGSC-0095"},{"t":1.1,"v":1.62,"s":"AGSC-0095"},{"t":1.25,"v":1.1,"s":"AGSC-0095"},{"t":1.4,"v":0.2,"s":"AGSC-0095"},{"t":1.55,"v":-0.39,"s":"AGSC-0095"},{"t":1.8,"v":0.0,"s":"AGSC-0095"},{"t":2.05,"v":0.36,"s":"AGSC-0095"},{"t":2.3,"v":-0.05,"s":"AGSC-0095"},{"t":2.55,"v":-0.39,"s":"AGSC-0095"},{"t":2.8,"v":-0.05,"s":"AGSC-0095"},{"t":3.1,"v":0.21,"s":"AGSC-0095"},{"t":3.35,"v":-0.05,"s":"AGSC-0095"},{"t":3.6,"v":-0.28,"s":"AGSC-0095"},{"t":3.85,"v":-0.05,"s":"AGSC-0095"},{"t":4.1,"v":0.14,"s":"AGSC-0095"},{"t":4.35,"v":-0.05,"s":"AGSC-0095"},{"t":4.6,"v":-0.2,"s":"AGSC-0095"},{"t":4.85,"v":-0.07,"s":"AGSC-0095"},{"t":5.1,"v":0.06,"s":"AGSC-0095"},{"t":5.35,"v":-0.06,"s":"AGSC-0095"},{"t":5.6,"v":-0.15,"s":"AGSC-0095"},{"t":5.85,"v":-0.07,"s":"AGSC-0095"},{"t":6.1,"v":0.0,"s":"AGSC-0095"},{"t":6.4,"v":-0.06,"s":"AGSC-0095"},{"t":6.65,"v":-0.12,"s":"AGSC-0095"},{"t":6.95,"v":-0.06,"s":"AGSC-0095"},{"t":7.3,"v":-0.04,"s":"AGSC-0095"},{"t":7.6,"v":-0.07,"s":"AGSC-0095"},{"t":7.9,"v":-0.1,"s":"AGSC-0095"},{"t":8.3,"v":-0.06,"s":"AGSC-0095"},{"t":8.7,"v":-0.05,"s":"AGSC-0095"},{"t":9.2,"v":-0.08,"s":"AGSC-0095"},{"t":10,"v":-0.06,"s":"AGSC-0095"},{"t":15,"v":-0.06,"s":"AGSC-0095"},{"t":20,"v":-0.06,"s":"AGSC-0095"},{"t":30,"v":-0.05,"s":"AGSC-0095"},{"t":40,"v":-0.05,"s":"AGSC-0095"},{"t":50,"v":-0.04,"s":"AGSC-0095"},{"t":52,"v":-0.01,"s":"AGSC-0095"},{"t":55,"v":0.0,"s":"AGSC-0095"},{"t":80,"v":0.0,"s":"AGSC-0095"}
    ]
  },
  "concat": [
    {
      "width": 434, "height": 353,
      "data": {"name": "m1"},
      "encoding": {
        "x": {"field": "t", "type": "quantitative", "scale": {"domain": [0, 80], "nice": false}, "axis": {"title": "Time (s)", "values": [0,10,20,30,40,50,60,70,80]}},
        "y": {"field": "v", "type": "quantitative", "scale": {"domain": [-6, 3], "nice": false}, "axis": {"title": "Displacement of 𝑚₁ (m)", "values": [-6,-5,-4,-3,-2,-1,0,1,2,3]}},
        "color": {"field": "s", "type": "nominal", "scale": {"domain": ["No control", "PDHC-0095", "AGSC-0095"], "range": ["#1a1a1a", "#4c5cd0", "#e8161b"]}, "legend": {"title": null, "orient": "none", "legendX": 258, "legendY": 282}},
        "strokeDash": {"field": "s", "type": "nominal", "scale": {"domain": ["No control", "PDHC-0095", "AGSC-0095"], "range": [[11, 7], [2, 2], [1, 0]]}, "legend": {"title": null, "orient": "none", "legendX": 258, "legendY": 282}}
      },
      "layer": [
        {"layer": [
          {"transform": [{"filter": "datum.s === 'No control'"}], "mark": {"type": "line", "strokeWidth": 2.2, "interpolate": "monotone"}},
          {"transform": [{"filter": "datum.s === 'PDHC-0095'"}], "mark": {"type": "line", "strokeWidth": 2, "interpolate": "monotone"}},
          {"transform": [{"filter": "datum.s === 'AGSC-0095'"}], "mark": {"type": "line", "strokeWidth": 2, "interpolate": "monotone"}}
        ]},
        {"data": {"values": [{}]}, "mark": {"type": "rule", "strokeWidth": 1},
         "encoding": {
           "x": {"datum": 0, "type": "quantitative", "axis": {"orient": "top", "labels": false, "title": null, "values": [0,10,20,30,40,50,60,70,80]}},
           "x2": {"datum": 80},
           "y": {"datum": 0, "type": "quantitative", "axis": {"orient": "right", "labels": false, "title": null, "values": [-6,-5,-4,-3,-2,-1,0,1,2,3]}},
           "color": {"value": "#444"}, "strokeDash": {"value": [1, 0]}
         }}
      ],
      "resolve": {"axis": {"x": "independent", "y": "independent"}}
    },
    {
      "width": 437, "height": 352,
      "data": {"name": "m2"},
      "encoding": {
        "x": {"field": "t", "type": "quantitative", "scale": {"domain": [0, 80], "nice": false}, "axis": {"title": "Time (s)", "values": [0,10,20,30,40,50,60,70,80]}},
        "y": {"field": "v", "type": "quantitative", "scale": {"domain": [-6, 3], "nice": false}, "axis": {"title": "Displacement of 𝑚₂ (m)", "values": [-6,-5,-4,-3,-2,-1,0,1,2,3]}},
        "color": {"field": "s", "type": "nominal", "scale": {"domain": ["No control", "PDHC-0095", "AGSC-0095"], "range": ["#1a1a1a", "#4c5cd0", "#ef3b2c"]}, "legend": {"title": null, "orient": "none", "legendX": 291, "legendY": 282}},
        "strokeDash": {"field": "s", "type": "nominal", "scale": {"domain": ["No control", "PDHC-0095", "AGSC-0095"], "range": [[11, 7], [2, 2], [1, 0]]}, "legend": {"title": null, "orient": "none", "legendX": 291, "legendY": 282}}
      },
      "layer": [
        {"layer": [
          {"transform": [{"filter": "datum.s === 'No control'"}], "mark": {"type": "line", "strokeWidth": 2.2, "interpolate": "monotone"}},
          {"transform": [{"filter": "datum.s === 'PDHC-0095'"}], "mark": {"type": "line", "strokeWidth": 2, "interpolate": "monotone"}},
          {"transform": [{"filter": "datum.s === 'AGSC-0095'"}], "mark": {"type": "line", "strokeWidth": 2, "interpolate": "monotone"}}
        ]},
        {"data": {"values": [{}]}, "mark": {"type": "rule", "strokeWidth": 1},
         "encoding": {
           "x": {"datum": 0, "type": "quantitative", "axis": {"orient": "top", "labels": false, "title": null, "values": [0,10,20,30,40,50,60,70,80]}},
           "x2": {"datum": 80},
           "y": {"datum": 0, "type": "quantitative", "axis": {"orient": "right", "labels": false, "title": null, "values": [-6,-5,-4,-3,-2,-1,0,1,2,3]}},
           "color": {"value": "#444"}, "strokeDash": {"value": [1, 0]}
         }}
      ],
      "resolve": {"axis": {"x": "independent", "y": "independent"}}
    },
    {
      "width": 434, "height": 353,
      "data": {"name": "m3"},
      "encoding": {
        "x": {"field": "t", "type": "quantitative", "scale": {"domain": [0, 80], "nice": false}, "axis": {"title": "Time (s)", "values": [0,10,20,30,40,50,60,70,80]}},
        "y": {"field": "v", "type": "quantitative", "scale": {"domain": [-6, 3], "nice": false}, "axis": {"title": "Displacement of 𝑚₃ (m)", "values": [-6,-5,-4,-3,-2,-1,0,1,2,3]}},
        "color": {"field": "s", "type": "nominal", "scale": {"domain": ["No control", "PDHC-0095", "AGSC-0095"], "range": ["#1a1a1a", "#4c5cd0", "#ef3b2c"]}, "legend": {"title": null, "orient": "none", "legendX": 276, "legendY": 284}},
        "strokeDash": {"field": "s", "type": "nominal", "scale": {"domain": ["No control", "PDHC-0095", "AGSC-0095"], "range": [[11, 7], [2, 2], [1, 0]]}, "legend": {"title": null, "orient": "none", "legendX": 276, "legendY": 284}}
      },
      "layer": [
        {"layer": [
          {"transform": [{"filter": "datum.s === 'No control'"}], "mark": {"type": "line", "strokeWidth": 2.2, "interpolate": "monotone"}},
          {"transform": [{"filter": "datum.s === 'PDHC-0095'"}], "mark": {"type": "line", "strokeWidth": 2, "interpolate": "monotone"}},
          {"transform": [{"filter": "datum.s === 'AGSC-0095'"}], "mark": {"type": "line", "strokeWidth": 2, "interpolate": "monotone"}}
        ]},
        {"data": {"values": [{}]}, "mark": {"type": "rule", "strokeWidth": 1},
         "encoding": {
           "x": {"datum": 0, "type": "quantitative", "axis": {"orient": "top", "labels": false, "title": null, "values": [0,10,20,30,40,50,60,70,80]}},
           "x2": {"datum": 80},
           "y": {"datum": 0, "type": "quantitative", "axis": {"orient": "right", "labels": false, "title": null, "values": [-6,-5,-4,-3,-2,-1,0,1,2,3]}},
           "color": {"value": "#444"}, "strokeDash": {"value": [1, 0]}
         }}
      ],
      "resolve": {"axis": {"x": "independent", "y": "independent"}}
    },
    {
      "width": 440, "height": 355,
      "data": {"name": "f"},
      "encoding": {
        "x": {"field": "t", "type": "quantitative", "scale": {"domain": [0, 80], "nice": false}, "axis": {"title": "Time (s)", "values": [0,10,20,30,40,50,60,70,80]}},
        "y": {"field": "v", "type": "quantitative", "scale": {"domain": [-6, 2], "nice": false}, "axis": {"title": "Control force (×10⁷ N)", "values": [-6,-5,-4,-3,-2,-1,0,1,2]}},
        "color": {"field": "s", "type": "nominal", "scale": {"domain": ["PDHC-0095", "AGSC-0095"], "range": ["#4c5cd0", "#ef3b2c"]}, "legend": {"title": null, "orient": "none", "legendX": 296, "legendY": 302}},
        "strokeDash": {"field": "s", "type": "nominal", "scale": {"domain": ["PDHC-0095", "AGSC-0095"], "range": [[2, 2], [1, 0]]}, "legend": {"title": null, "orient": "none", "legendX": 296, "legendY": 302}}
      },
      "layer": [
        {"layer": [
          {"transform": [{"filter": "datum.s === 'PDHC-0095'"}], "mark": {"type": "line", "strokeWidth": 2, "interpolate": "monotone"}},
          {"transform": [{"filter": "datum.s === 'AGSC-0095'"}], "mark": {"type": "line", "strokeWidth": 2, "interpolate": "monotone"}}
        ]},
        {"data": {"values": [{}]}, "mark": {"type": "rule", "strokeWidth": 1},
         "encoding": {
           "x": {"datum": 0, "type": "quantitative", "axis": {"orient": "top", "labels": false, "title": null, "values": [0,10,20,30,40,50,60,70,80]}},
           "x2": {"datum": 80},
           "y": {"datum": 0, "type": "quantitative", "axis": {"orient": "right", "labels": false, "title": null, "values": [-6,-5,-4,-3,-2,-1,0,1,2]}},
           "color": {"value": "#444"}, "strokeDash": {"value": [1, 0]}
         }}
      ],
      "resolve": {"axis": {"x": "independent", "y": "independent"}}
    }
  ]
}
